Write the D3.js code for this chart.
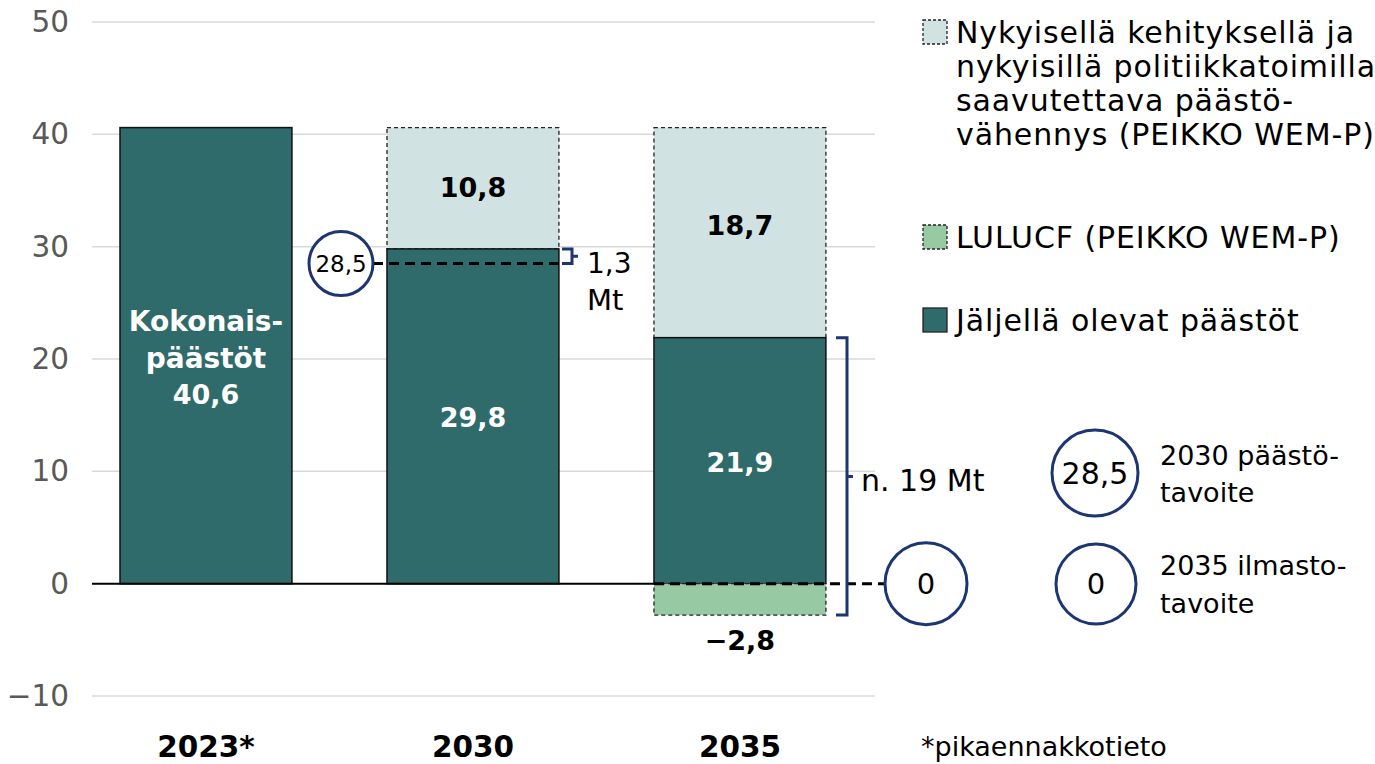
<!DOCTYPE html>
<html lang="fi">
<head>
<meta charset="UTF-8">
<title>Päästöt</title>
<style>
  body { margin: 0; background: #fff; }
  svg text { font-family: "DejaVu Sans", sans-serif; }
</style>
</head>
<body>
<svg id="svg" width="1375" height="764"></svg>
<script src="https://d3js.org/d3.v7.min.js"></script>
<script>
// data
const years = ['2023*', '2030', '2035']
const remaining = [40.6, 29.8, 21.9]      // Jäljellä olevat päästöt
const reduction = [0, 10.8, 18.7]         // WEM-P vähennys
const lulucf = [0, 0, -2.8]
const yTicks = [-10, 0, 10, 20, 30, 40, 50]
const target2030 = 28.5
const target2035 = 0

const colDark = '#2f6b6b'
const colLight = '#d0e2e2'
const colGreen = '#97c9a3'
const colNavy = '#1d3671'

const svg = d3.select('#svg')

const y = d3.scaleLinear().domain([-10, 50]).range([696, 22])
const x = d3.scaleBand().domain(years).range([93.3, 852.6])
  .paddingInner(0.356).paddingOuter(0.1)

const fmt = v => String(v).replace('.', ',').replace('-', '−')

// gridlines
svg.append('g').selectAll('line')
  .data(yTicks.filter(d => d !== 0))
  .join('line')
  .attr('x1', 92).attr('x2', 875)
  .attr('y1', d => y(d)).attr('y2', d => y(d))
  .attr('stroke', '#d9d9d9').attr('stroke-width', 1.5)

// y axis labels
svg.append('g').selectAll('text')
  .data(yTicks)
  .join('text')
  .attr('x', 69).attr('y', d => y(d))
  .attr('text-anchor', 'end').attr('dominant-baseline', 'central')
  .attr('font-size', 29.5).attr('fill', '#595959')
  .text(d => d < 0 ? '−' + Math.abs(d) : d)

const bw = x.bandwidth()

// light reduction boxes (dashed)
svg.append('g').selectAll('rect')
  .data(years.filter((d, i) => reduction[i] > 0))
  .join('rect')
  .attr('x', d => x(d)).attr('width', bw)
  .attr('y', d => y(remaining[years.indexOf(d)] + reduction[years.indexOf(d)]))
  .attr('height', d => { const i = years.indexOf(d); return y(remaining[i]) - y(remaining[i] + reduction[i]) })
  .attr('fill', colLight).attr('stroke', '#222').attr('stroke-width', 1.3)
  .attr('stroke-dasharray', '4,3')

// dark remaining bars
svg.append('g').selectAll('rect')
  .data(years)
  .join('rect')
  .attr('x', d => x(d)).attr('width', bw)
  .attr('y', (d, i) => y(remaining[i]))
  .attr('height', (d, i) => y(0) - y(remaining[i]))
  .attr('fill', colDark).attr('stroke', '#111').attr('stroke-width', 1.5)

// LULUCF box
svg.append('g').selectAll('rect')
  .data(years.filter((d, i) => lulucf[i] < 0))
  .join('rect')
  .attr('x', d => x(d)).attr('width', bw)
  .attr('y', y(0))
  .attr('height', d => y(lulucf[years.indexOf(d)]) - y(0))
  .attr('fill', colGreen).attr('stroke', '#222').attr('stroke-width', 1.3)
  .attr('stroke-dasharray', '4,3')

// zero baseline
svg.append('line')
  .attr('x1', 92).attr('x2', x('2035'))
  .attr('y1', y(0)).attr('y2', y(0))
  .attr('stroke', '#000').attr('stroke-width', 2)

// 2035 target dashed line
svg.append('line')
  .attr('x1', x('2035')).attr('x2', 885)
  .attr('y1', y(target2035)).attr('y2', y(target2035))
  .attr('stroke', '#000').attr('stroke-width', 3).attr('stroke-dasharray', '10,6')

// 2030 target dashed line
svg.append('line')
  .attr('x1', 373).attr('x2', x('2030') + bw)
  .attr('y1', y(target2030)).attr('y2', y(target2030))
  .attr('stroke', '#000').attr('stroke-width', 3).attr('stroke-dasharray', '10,6')

// target circles
const circ = (cx, cy, r, label, fs) => {
  svg.append('circle').attr('cx', cx).attr('cy', cy).attr('r', r)
    .attr('fill', '#fff').attr('stroke', colNavy).attr('stroke-width', 3)
  svg.append('text').attr('x', cx).attr('y', cy)
    .attr('text-anchor', 'middle').attr('dominant-baseline', 'central')
    .attr('font-size', fs).attr('fill', '#000').text(label)
}
circ(341, y(target2030), 32, fmt(target2030), 23)
circ(926, y(target2035), 41, fmt(target2035), 29)
circ(1095, 473, 43, fmt(target2030), 30)
circ(1096, 584, 40, fmt(target2035), 29)

// brackets
const bracket = (x0, x1, yTop, yBot, tick) => {
  const ym = (yTop + yBot) / 2
  svg.append('path')
    .attr('d', `M${x0},${yTop} H${x1} V${yBot} H${x0} M${x1},${ym} H${x1 + tick}`)
    .attr('fill', 'none').attr('stroke', colNavy).attr('stroke-width', 3)
}
bracket(562, 572, y(remaining[1]), y(target2030), 6)
bracket(836, 847, y(remaining[2]), y(lulucf[2]), 6)

const txt = (tx, ty, s, opts = {}) => svg.append('text')
  .attr('x', tx).attr('y', ty)
  .attr('text-anchor', opts.anchor || 'start')
  .attr('dominant-baseline', 'central')
  .attr('font-size', opts.size || 27)
  .attr('font-weight', opts.bold ? 700 : 400)
  .attr('letter-spacing', opts.ls || 0)
  .attr('fill', opts.fill || '#000')
  .text(s)

txt(587, 263, '1,3', { size: 28 })
txt(587, 300, 'Mt', { size: 29 })
txt(861, 480, 'n. 19 Mt', { size: 30 })

// bar labels
const c = d => x(d) + bw / 2
txt(c('2023*'), 321, 'Kokonais-', { anchor: 'middle', bold: true, fill: '#fff', size: 28 })
txt(c('2023*'), 358, 'päästöt', { anchor: 'middle', bold: true, fill: '#fff', size: 28 })
txt(c('2023*'), 394, fmt(remaining[0]), { anchor: 'middle', bold: true, fill: '#fff' })
txt(c('2030'), 417, fmt(remaining[1]), { anchor: 'middle', bold: true, fill: '#fff' })
txt(c('2030'), 187, fmt(reduction[1]), { anchor: 'middle', bold: true })
txt(c('2035'), 225, fmt(reduction[2]), { anchor: 'middle', bold: true })
txt(c('2035'), 462, fmt(remaining[2]), { anchor: 'middle', bold: true, fill: '#fff' })
txt(c('2035'), 640, fmt(lulucf[2]), { anchor: 'middle', bold: true })

// category labels
svg.append('g').selectAll('text')
  .data(years)
  .join('text')
  .attr('x', d => c(d)).attr('y', 747)
  .attr('text-anchor', 'middle').attr('dominant-baseline', 'central')
  .attr('font-size', 29.5).attr('font-weight', 700)
  .text(d => d)

// legend
const legend = [
  { lines: ['Nykyisellä kehityksellä ja', 'nykyisillä politiikkatoimilla', 'saavutettava päästö-', 'vähennys (PEIKKO WEM-P)'], fill: colLight, dash: true, y: 32 },
  { lines: ['LULUCF (PEIKKO WEM-P)'], fill: colGreen, dash: true, y: 237 },
  { lines: ['Jäljellä olevat päästöt'], fill: colDark, dash: false, y: 320 }
]
legend.forEach(l => {
  svg.append('rect').attr('x', 923).attr('y', l.y - 12).attr('width', 24).attr('height', 24)
    .attr('fill', l.fill).attr('stroke', '#222').attr('stroke-width', 1.3)
    .attr('stroke-dasharray', l.dash ? '3,2' : null)
  l.lines.forEach((s, i) => txt(956, l.y + i * 34.2, s, { size: 30, ls: 0.9 }))
})

txt(1160, 455, '2030 päästö-')
txt(1160, 492, 'tavoite')
txt(1160, 565, '2035 ilmasto-')
txt(1160, 603, 'tavoite')
txt(921, 746, '*pikaennakkotieto')
</script>
</body>
</html>
